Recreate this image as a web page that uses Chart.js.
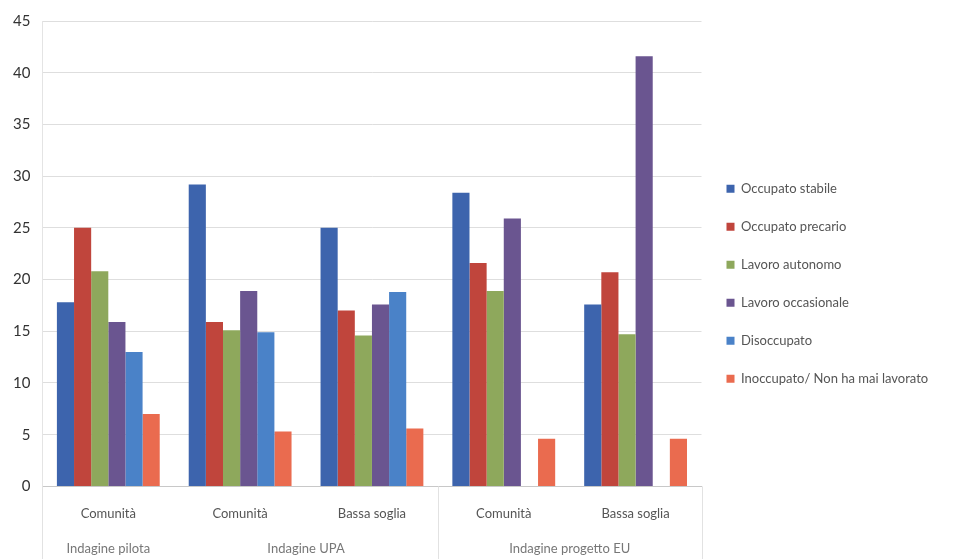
<!DOCTYPE html>
<html>
<head>
<meta charset="utf-8">
<script src="https://cdn.jsdelivr.net/npm/chart.js@4/dist/chart.umd.min.js"></script>
<style>
  html, body { margin: 0; padding: 0; background: #fff; }
  #wrap { width: 954px; height: 559px; }
</style>
</head>
<body>
<div id="wrap"><canvas id="grafico"></canvas></div>
<script>
// Categorie (livello 1) e gruppi di indagine (livello 2)
const categorie = ['Comunità', 'Comunità', 'Bassa soglia', 'Comunità', 'Bassa soglia'];
const gruppi = ['Indagine pilota', 'Indagine UPA', 'Indagine progetto EU'];
const gruppiDa = [0, 1, 3];
const gruppiA = [0, 2, 4];

// Valori (%)
const occupatoStabile   = [17.8, 29.2, 25.0, 28.4, 17.6];
const occupatoPrecario  = [25.0, 15.9, 17.0, 21.6, 20.7];
const lavoroAutonomo    = [20.8, 15.1, 14.6, 18.9, 14.7];
const lavoroOccasionale = [15.9, 18.9, 17.6, 25.9, 41.6];
const disoccupato       = [13.0, 14.9, 18.8, null, null];
const inoccupato        = [7.0, 5.3, 5.6, 4.6, 4.6];

const serieNomi = ['Occupato stabile', 'Occupato precario', 'Lavoro autonomo',
  'Lavoro occasionale', 'Disoccupato', 'Inoccupato/ Non ha mai lavorato'];
const serieValori = [occupatoStabile, occupatoPrecario, lavoroAutonomo,
  lavoroOccasionale, disoccupato, inoccupato];
const colori = ['#3d64ad', '#c0453c', '#8ea85c', '#6a5590', '#4a82c8', '#ea6b4f'];

const FONT = 'Lato, "Open Sans", sans-serif';

// Etichette del secondo livello dell'asse x e separatori
const etichetteGruppi = {
  id: 'etichetteGruppi',
  afterDraw(chart) {
    const ctx = chart.ctx;
    const x = chart.scales.x;
    const area = chart.chartArea;
    const passo = x.getPixelForValue(1) - x.getPixelForValue(0);
    ctx.save();
    ctx.font = '13px ' + FONT;
    ctx.fillStyle = '#777';
    ctx.textAlign = 'center';
    ctx.textBaseline = 'middle';
    gruppi.forEach((g, i) => {
      const cx = (x.getPixelForValue(gruppiDa[i]) + x.getPixelForValue(gruppiA[i])) / 2;
      ctx.fillText(g, cx, area.bottom + 62);
    });
    // separatori verticali sotto l'asse
    ctx.strokeStyle = '#e2e2e2';
    ctx.lineWidth = 1;
    const sep = [area.left, x.getPixelForValue(2) + passo / 2, area.right];
    sep.forEach(px => {
      ctx.beginPath();
      ctx.moveTo(Math.round(px) + 0.5, area.bottom);
      ctx.lineTo(Math.round(px) + 0.5, area.bottom + 74);
      ctx.stroke();
    });
    ctx.restore();
  }
};

new Chart(document.getElementById('grafico'), {
  type: 'bar',
  data: {
    labels: categorie,
    datasets: serieNomi.map((nome, i) => ({
      label: nome,
      data: serieValori[i],
      backgroundColor: colori[i],
      borderWidth: 0,
      categoryPercentage: 0.78,
      barPercentage: 1.0
    }))
  },
  options: {
    responsive: true,
    maintainAspectRatio: false,
    animation: false,
    layout: { padding: { top: 14, left: 1, right: 19, bottom: 25 } },
    plugins: {
      tooltip: { enabled: false },
      legend: {
        position: 'right',
        title: { display: true, text: ' ', padding: { top: 0, bottom: 4 }, font: { size: 13 } },
        labels: {
          font: { family: FONT, size: 13 },
          color: '#555',
          boxWidth: 8,
          boxHeight: 8,
          padding: 25
        }
      }
    },
    scales: {
      x: {
        grid: { display: false },
        border: { color: '#c8c8c8' },
        ticks: { font: { family: FONT, size: 13 }, color: '#555', padding: 12 }
      },
      y: {
        min: 0,
        max: 45,
        ticks: { stepSize: 5, font: { family: FONT, size: 15 }, color: '#333', padding: 12 },
        grid: { color: '#dedede', drawTicks: false },
        border: { color: '#e4e4e4' }
      }
    }
  },
  plugins: [etichetteGruppi]
});
</script>
</body>
</html>
